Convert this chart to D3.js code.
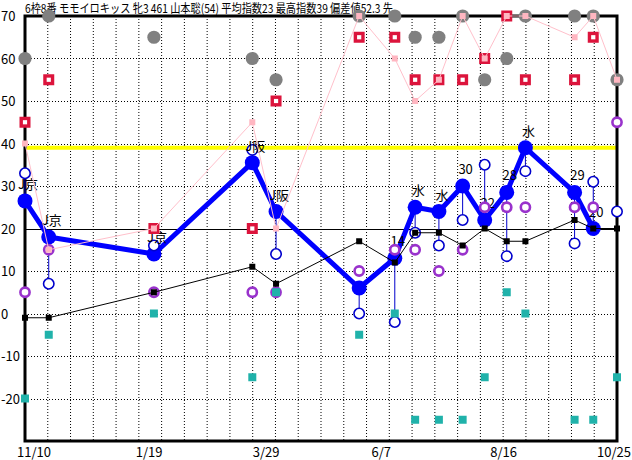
<!DOCTYPE html>
<html><head><meta charset="utf-8">
<script src="https://cdn.jsdelivr.net/npm/d3@7"></script>
<style>body{margin:0;background:#fff}svg{display:block}</style>
</head><body><svg id="c" width="632" height="460"></svg>
<script>
const titleText = "6枠8番 モモイロキッス 牝3 461 山本聡(54) 平均指数23 最高指数39 偏差値52.3 先";
const raceDates = ["2013-11-10","2013-11-24","2014-01-25","2014-03-24","2014-04-07","2014-05-26","2014-06-16","2014-06-28","2014-07-12","2014-07-26","2014-08-08","2014-08-21","2014-09-01","2014-09-30","2014-10-11","2014-10-25"];
const mainIndex = [26.5,18,14,35.5,24,6,13,25,24,30,22,28.5,39,28.5,20,null];
const raceLabels = ["J京","J京","J京","J阪","J阪","","14","水","水","30","22","28","水","29","20",""];
const subIndex = [33,7,16,38.5,14,0,-2,19,16,22,35,13.5,33.5,16.5,31,24];
const purpleIndex = [5,15,5,5,5,10,15,15,10,15,25,25,25,25,25,45];
const blackIndex = [-1,-1,5,11,7,17,12,19,19,16,20,17,17,22,20,20];
const tealIndex = [-20,-5,0,-15,5,-5,0,-25,-25,-25,-15,5,0,-25,-25,-15];
const grayIndex = [60,70,65,60,55,70,70,65,65,70,55,60,70,70,70,55];
const crimsonIndex = [45,55,20,20,50,65,65,55,55,55,60,70,55,55,65,null];
const pinkIndex = [40,15,20,45,20,70,60,50,55,70,60,70,70,65,70,55];
const maxIndex = 39;
const baseValue = 20;
const yTicks = [70,60,50,40,30,20,10,0,-10,-20];
const xTickDates = ["2013-11-10","2014-01-19","2014-03-29","2014-06-07","2014-08-16","2014-10-25"];

const parse = d3.timeParse("%Y-%m-%d");
const fmt = d3.timeFormat("%-m/%-d");
const dates = raceDates.map(parse);
const L = 25, R = 617, T = 16, B = 441;
const x = d3.scaleTime().domain([dates[0], dates[dates.length-1]]).range([L, R]);
const y = d3.scaleLinear().domain([-30, 70]).range([B, T]);
const svg = d3.select("#c");
const FONT = "'Noto Sans CJK JP', 'Noto Sans', sans-serif";

svg.append("rect").attr("width",632).attr("height",460).attr("fill","#fff");

// title
svg.append("text").attr("x",25).attr("y",13).attr("font-family",FONT).attr("font-size",12)
  .attr("textLength",368).attr("lengthAdjust","spacingAndGlyphs")
  .attr("fill","#000").text(titleText);

// grid vertical
const nDiv = 26;
d3.range(1, nDiv).forEach(k => {
  const xx = L + (R - L) * k / nDiv;
  svg.append("line").attr("x1",xx).attr("x2",xx).attr("y1",T).attr("y2",B)
    .attr("stroke","#000").attr("stroke-width",1).attr("stroke-dasharray","1,2");
});
// grid horizontal
yTicks.filter(v => v !== 70 && v !== baseValue).forEach(v => {
  svg.append("line").attr("x1",L).attr("x2",R).attr("y1",Math.round(y(v))+0.5).attr("y2",Math.round(y(v))+0.5)
    .attr("stroke","#000").attr("stroke-width",1).attr("stroke-dasharray","1,2");
});
svg.append("line").attr("x1",L).attr("x2",R).attr("y1",Math.round(y(baseValue))+0.5).attr("y2",Math.round(y(baseValue))+0.5)
  .attr("stroke","#000").attr("stroke-width",1);
// yellow max line
svg.append("line").attr("x1",L).attr("x2",R).attr("y1",y(maxIndex)).attr("y2",y(maxIndex))
  .attr("stroke","#ffff00").attr("stroke-width",4);

// frame
svg.append("rect").attr("x",L).attr("y",T).attr("width",R-L).attr("height",B-T)
  .attr("fill","none").attr("stroke","#000").attr("stroke-width",3);

// y labels
svg.selectAll(".yl").data(yTicks).enter().append("text")
  .attr("x",1).attr("y",d => y(d)+5).attr("font-family",FONT).attr("font-size",13)
  .attr("fill","#000").text(d => d);
// x labels
svg.selectAll(".xl").data(xTickDates).enter().append("text")
  .attr("x",(d,i) => i === xTickDates.length-1 ? 631 : x(parse(d)) - 8)
  .attr("text-anchor",(d,i) => i === xTickDates.length-1 ? "end" : "start")
  .attr("y",457).attr("font-family",FONT).attr("font-size",13).attr("fill","#000")
  .text(d => fmt(parse(d)));

const idx = d3.range(dates.length);
// vertical blue thin lines
idx.filter(i => mainIndex[i] != null && subIndex[i] != null).forEach(i => {
  svg.append("line").attr("x1",x(dates[i])).attr("x2",x(dates[i]))
    .attr("y1",y(mainIndex[i])).attr("y2",y(subIndex[i]))
    .attr("stroke","#0000cc").attr("stroke-width",1);
});
// main line
const mainPts = idx.filter(i => mainIndex[i] != null);
svg.append("path").datum(mainPts)
  .attr("d", d3.line().x(i => x(dates[i])).y(i => y(mainIndex[i])))
  .attr("fill","none").attr("stroke","#0000ff").attr("stroke-width",5).attr("stroke-linejoin","round");
svg.selectAll(".md").data(mainPts).enter().append("circle")
  .attr("cx",i => x(dates[i])).attr("cy",i => y(mainIndex[i])).attr("r",7.5).attr("fill","#0000ff");
// sub open rings
svg.selectAll(".sd").data(idx.filter(i => subIndex[i] != null)).enter().append("circle")
  .attr("cx",i => x(dates[i])).attr("cy",i => y(subIndex[i])).attr("r",5.2)
  .attr("fill","#fff").attr("stroke","#0000cc").attr("stroke-width",1.6);
// labels
svg.selectAll(".lb").data(mainPts.filter(i => raceLabels[i])).enter().append("text")
  .attr("x",i => x(dates[i]) + 3).attr("y",i => y(mainIndex[i]) - 12)
  .attr("text-anchor","middle").attr("font-family",FONT).attr("font-size",13).attr("fill","#000")
  .text(i => raceLabels[i]);
// purple rings
svg.selectAll(".pr").data(idx.filter(i => purpleIndex[i] != null)).enter().append("circle")
  .attr("cx",i => x(dates[i])).attr("cy",i => y(purpleIndex[i])).attr("r",4.6)
  .attr("fill","#fff").attr("stroke","#9932cc").attr("stroke-width",2.6);
// black line + squares
svg.append("path").datum(idx.filter(i => blackIndex[i] != null))
  .attr("d", d3.line().x(i => x(dates[i])).y(i => y(blackIndex[i])))
  .attr("fill","none").attr("stroke","#000").attr("stroke-width",1);
svg.selectAll(".bk").data(idx.filter(i => blackIndex[i] != null)).enter().append("rect")
  .attr("x",i => x(dates[i]) - 3).attr("y",i => y(blackIndex[i]) - 3).attr("width",6).attr("height",6).attr("fill","#000");
// teal squares
svg.selectAll(".tl").data(idx.filter(i => tealIndex[i] != null)).enter().append("rect")
  .attr("x",i => x(dates[i]) - 4).attr("y",i => y(tealIndex[i]) - 4).attr("width",8).attr("height",8).attr("fill","#20b2aa");
// gray circles
svg.selectAll(".gy").data(idx.filter(i => grayIndex[i] != null)).enter().append("circle")
  .attr("cx",i => x(dates[i])).attr("cy",i => y(grayIndex[i])).attr("r",6.6).attr("fill","#808080");
// crimson open squares
svg.selectAll(".cr").data(idx.filter(i => crimsonIndex[i] != null)).enter().append("rect")
  .attr("x",i => x(dates[i]) - 3.8).attr("y",i => y(crimsonIndex[i]) - 3.8).attr("width",7.6).attr("height",7.6)
  .attr("fill","#fff").attr("stroke","#dc143c").attr("stroke-width",3.4);
// pink line + squares
svg.append("path").datum(idx.filter(i => pinkIndex[i] != null))
  .attr("d", d3.line().x(i => x(dates[i])).y(i => y(pinkIndex[i])))
  .attr("fill","none").attr("stroke","#ffc0cb").attr("stroke-width",1);
svg.selectAll(".pk").data(idx.filter(i => pinkIndex[i] != null)).enter().append("rect")
  .attr("x",i => x(dates[i]) - 3).attr("y",i => y(pinkIndex[i]) - 3).attr("width",6).attr("height",6).attr("fill","#ffb6c1");
</script></body></html>
